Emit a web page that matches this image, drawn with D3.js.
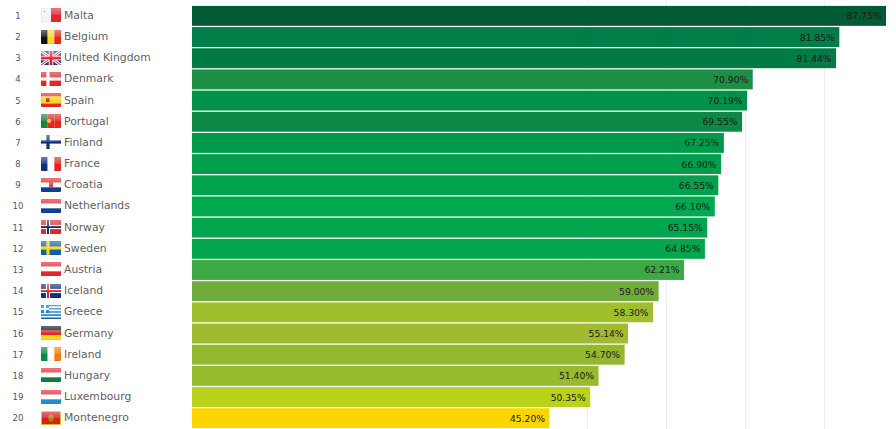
<!DOCTYPE html>
<html><head><meta charset="utf-8">
<script src="https://cdnjs.cloudflare.com/ajax/libs/d3/7.8.5/d3.min.js"></script>
<style>html,body{margin:0;padding:0;background:#fff;overflow:hidden}svg{display:block}</style>
</head><body><svg id="c" width="896" height="429"></svg>
<script>
const countries=["Malta","Belgium","United Kingdom","Denmark","Spain","Portugal","Finland","France","Croatia","Netherlands","Norway","Sweden","Austria","Iceland","Greece","Germany","Ireland","Hungary","Luxembourg","Montenegro"];
const values=[87.75,81.85,81.44,70.90,70.19,69.55,67.25,66.90,66.55,66.10,65.15,64.85,62.21,59.00,58.30,55.14,54.70,51.40,50.35,45.20];
const barColors=["#005a36","#007e47","#007b46","#1d8f45","#009149","#0e8945","#009a4a","#009f4b","#00a24c","#00a84e","#00a64d","#00a54c","#3da945","#71ab3b","#a0bf2d","#a2bb2e","#93b72f","#97ba2e","#b9d21a","#ffd500"];
const gridTicks=[50,60,70,80];
const flagKinds=["v","v","uk","cross","h","v","cross","v","h","h","cross2","cross","h","cross2","greece","h","v","h","h","mne"];
const flagColors=[["#f4f4f4","#e5262a"],["#111111","#f7d92a","#e8261f"],["#1f3a80","#ffffff","#d9232e"],["#e5262a","#ffffff"],["#e5262a","#f9d71c","#f9d71c","#e5262a"],["#0c8a3c","#e5261f","#e5261f"],["#ffffff","#10307c"],["#10307c","#ffffff","#e5261f"],["#e5262a","#ffffff","#10408a"],["#e5262a","#ffffff","#10408f"],["#e5262a","#ffffff","#10307c"],["#1460a8","#f9d71c"],["#e5262a","#ffffff","#e5262a"],["#10307c","#ffffff","#e5262a"],["#1070b8","#ffffff"],["#111111","#e5261f","#f9d71c"],["#0c8a4c","#ffffff","#f57c14"],["#e5262a","#ffffff","#157a44"],["#e5262a","#ffffff","#1e90d0"],["#d8201c","#e8c020"]];
const W=896,H=429;
const svg=d3.select("#c");
const x=d3.scaleLinear().domain([0,87.75]).range([192,886]);
const y=d3.scaleBand().domain(countries).range([5.5,428.6]).paddingInner(0.06).paddingOuter(0.02);
const rowC=c=>y(c)+y.bandwidth()/2;

const defs=svg.append("defs");
const g=defs.append("linearGradient").attr("id","gloss").attr("x1",0).attr("x2",0).attr("y1",0).attr("y2",1);
g.append("stop").attr("offset",0).attr("stop-color","#fff").attr("stop-opacity",.4);
g.append("stop").attr("offset",.5).attr("stop-color","#fff").attr("stop-opacity",.12);
g.append("stop").attr("offset",.5).attr("stop-color","#fff").attr("stop-opacity",0);
defs.append("clipPath").attr("id","fc").append("rect").attr("width",20).attr("height",14).attr("rx",1);

svg.append("g").selectAll("line").data(gridTicks).join("line")
 .attr("x1",d=>x(d)).attr("x2",d=>x(d)).attr("y1",0).attr("y2",H).attr("stroke","#eeeeee").attr("stroke-width",1);

svg.append("g").selectAll("rect").data(countries).join("rect")
 .attr("x",x(0)).attr("y",d=>y(d)).attr("height",y.bandwidth())
 .attr("width",(d,i)=>x(values[i])-x(0)).attr("fill",(d,i)=>barColors[i]);

svg.append("g").selectAll("text").data(countries).join("text")
 .attr("x",(d,i)=>x(values[i])-4.5).attr("y",d=>rowC(d)+3.5).attr("text-anchor","end")
 .attr("font-family","DejaVu Sans").attr("font-size",9.2).attr("fill","#1a1a1a")
 .text((d,i)=>values[i].toFixed(2)+"%");

svg.append("g").selectAll("text").data(countries).join("text")
 .attr("x",18).attr("y",d=>rowC(d)+3).attr("text-anchor","middle")
 .attr("font-family","DejaVu Sans").attr("font-size",8.5).attr("fill","#555")
 .text((d,i)=>i+1);

svg.append("g").selectAll("text").data(countries).join("text")
 .attr("x",64).attr("y",d=>rowC(d)+3).attr("font-family","DejaVu Sans").attr("font-size",10.8).attr("fill","#5f5f5f")
 .text(d=>d);

function flag(sel,kind,c){
  const fw=20,fh=14;
  const stripes=(cols,dir)=>{
    const s=d3.scaleBand().domain(d3.range(cols.length)).range([0,dir==="v"?fw:fh]);
    cols.forEach((col,i)=>{
      if(dir==="v")sel.append("rect").attr("x",s(i)).attr("y",0).attr("width",s.bandwidth()).attr("height",fh).attr("fill",col);
      else sel.append("rect").attr("x",0).attr("y",s(i)).attr("width",fw).attr("height",s.bandwidth()).attr("fill",col);
    });
  };
  const cross=(col,w,cx)=>{
    sel.append("rect").attr("x",0).attr("y",(fh-w)/2).attr("width",fw).attr("height",w).attr("fill",col);
    sel.append("rect").attr("x",cx-w/2).attr("y",0).attr("width",w).attr("height",fh).attr("fill",col);
  };
  if(kind==="h"||kind==="v")stripes(c,kind);
  if(kind==="cross"){sel.append("rect").attr("width",fw).attr("height",fh).attr("fill",c[0]);cross(c[1],3.2,7);}
  if(kind==="cross2"){
    sel.append("rect").attr("width",fw).attr("height",fh).attr("fill",c[0]);cross(c[1],4.2,7);cross(c[2],2,7);
  }
  if(kind==="uk"){
    sel.append("rect").attr("width",fw).attr("height",fh).attr("fill",c[0]);
    [[0,0,fw,fh],[fw,0,0,fh]].forEach(p=>{
      sel.append("line").attr("x1",p[0]).attr("y1",p[1]).attr("x2",p[2]).attr("y2",p[3]).attr("stroke",c[1]).attr("stroke-width",3);
      sel.append("line").attr("x1",p[0]).attr("y1",p[1]).attr("x2",p[2]).attr("y2",p[3]).attr("stroke",c[2]).attr("stroke-width",1);
    });
    cross(c[1],4.6,10);cross(c[2],2.8,10);
  }
  if(kind==="greece"){
    stripes(d3.range(9).map(i=>i%2?c[1]:c[0]),"h");
    sel.append("rect").attr("width",8).attr("height",7.8).attr("fill",c[0]);
    sel.append("rect").attr("x",3).attr("width",2).attr("height",7.8).attr("fill",c[1]);
    sel.append("rect").attr("y",2.9).attr("width",8).attr("height",2).attr("fill",c[1]);
  }
  if(kind==="mne"){
    sel.append("rect").attr("width",fw).attr("height",fh).attr("fill",c[1]);
    sel.append("rect").attr("x",1).attr("y",1).attr("width",fw-2).attr("height",fh-2).attr("fill",c[0]);
    sel.append("ellipse").attr("cx",10).attr("cy",7).attr("rx",2.8).attr("ry",3.6).attr("fill","#b8801c");
  }
  if(kind==="v"&&c[0]==="#f4f4f4")sel.append("circle").attr("cx",3.5).attr("cy",3.5).attr("r",1).attr("fill","#d8a0a8");
  if(kind==="v"&&c[0]==="#0c8a3c")sel.append("circle").attr("cx",8).attr("cy",7).attr("r",2.6).attr("fill","#e8c040").attr("stroke","#b03020").attr("stroke-width",.8);
  if(kind==="h"&&c[1]==="#f9d71c")sel.append("rect").attr("x",5).attr("y",5).attr("width",3.5).attr("height",4).attr("fill","#c03020");
  if(kind==="h"&&c[2]==="#10408a")sel.append("rect").attr("x",8).attr("y",4).attr("width",4).attr("height",5.5).attr("fill","#d8404a");
  sel.append("rect").attr("width",fw).attr("height",fh).attr("fill","url(#gloss)");
  sel.append("rect").attr("x",.25).attr("y",.25).attr("width",fw-.5).attr("height",fh-.5).attr("rx",1).attr("fill","none").attr("stroke","#000").attr("stroke-opacity",.12).attr("stroke-width",.5);
}
countries.forEach((d,i)=>{
  const gf=svg.append("g").attr("transform",`translate(41,${Math.round(rowC(d)-7.5)})`).attr("clip-path","url(#fc)");
  flag(gf,flagKinds[i],flagColors[i]);
});
</script></body></html>
